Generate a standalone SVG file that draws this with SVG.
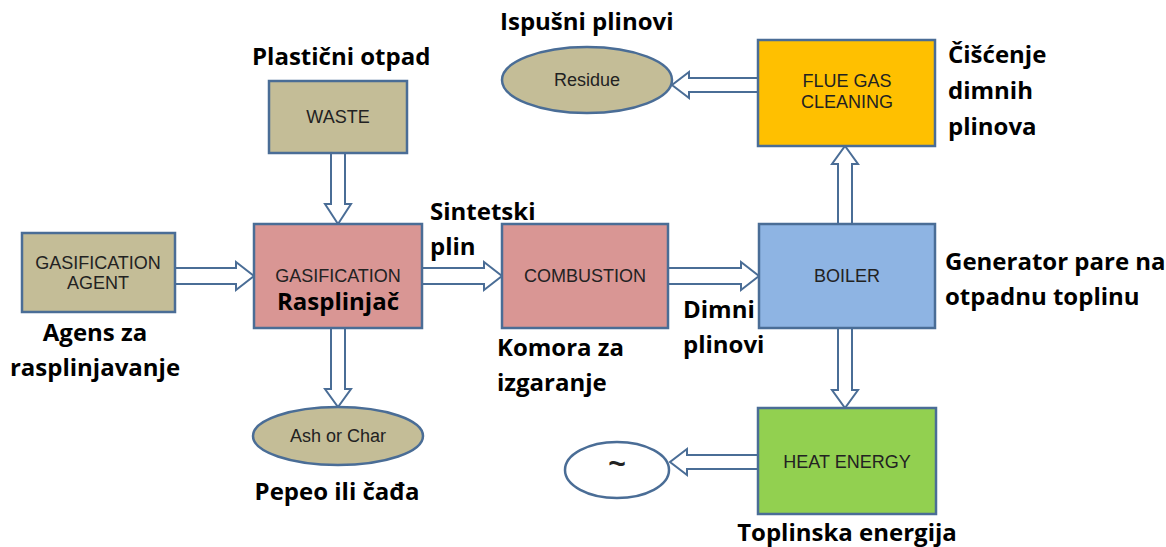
<svg xmlns="http://www.w3.org/2000/svg" width="1166" height="547" viewBox="0 0 1166 547">
<style>
.box{stroke:#4A6D96;stroke-width:2.5}
.arr{fill:#fff;stroke:#4A6D96;stroke-width:2;stroke-linejoin:miter}
.in{font-family:"Liberation Sans",Arial,sans-serif;font-size:18px;fill:#222;text-anchor:middle}
.lb{font-family:"Open Sans",Lato,sans-serif;font-weight:bold;font-size:24px;fill:#000}
</style>
<rect width="1166" height="547" fill="#fff"/>
<g id="connectors">
<path class="arr" d="M175,268 L236,268 L236,262 L254,276 L236,290 L236,284 L175,284 Z"/>
<path class="arr" d="M422,268 L484,268 L484,262 L502,276 L484,290 L484,284 L422,284 Z"/>
<path class="arr" d="M668,268 L741,268 L741,262 L759,276 L741,290 L741,284 L668,284 Z"/>
<path class="arr" d="M331,153 L331,204 L325,204 L338,224 L351,204 L345,204 L345,153 Z"/>
<path class="arr" d="M331,328 L331,389 L325,389 L338,407 L351,389 L345,389 L345,328 Z"/>
<path class="arr" d="M838,224 L838,164 L832,164 L845,146 L858,164 L852,164 L852,224 Z"/>
<path class="arr" d="M838,328 L838,390 L832,390 L845,408 L858,390 L852,390 L852,328 Z"/>
<path class="arr" d="M758,78 L689,78 L689,72 L672,85 L689,98 L689,92 L758,92 Z"/>
<path class="arr" d="M758,455 L687,455 L687,449 L670,462 L687,475 L687,469 L758,469 Z"/>
</g>
<g id="gasification-agent">
<rect class="box" x="22" y="233" width="153" height="79" fill="#C4BD97"/>
<text class="in" x="98" y="269">GASIFICATION</text>
<text class="in" x="98" y="289">AGENT</text>
</g>
<g id="waste">
<rect class="box" x="269" y="81" width="138" height="72" fill="#C4BD97"/>
<text class="in" x="338" y="123">WASTE</text>
</g>
<g id="gasification">
<rect class="box" x="254" y="224" width="168" height="104" fill="#D99694"/>
<text class="in" x="338" y="282">GASIFICATION</text>
<text class="lb" x="338" y="310" text-anchor="middle">Rasplinjač</text>
</g>
<g id="combustion">
<rect class="box" x="502" y="224" width="166" height="104" fill="#D99694"/>
<text class="in" x="585" y="282">COMBUSTION</text>
</g>
<g id="boiler">
<rect class="box" x="759" y="224" width="176" height="104" fill="#8EB4E3"/>
<text class="in" x="847" y="282">BOILER</text>
</g>
<g id="flue-gas-cleaning">
<rect class="box" x="758" y="40" width="177" height="106" fill="#FFC000"/>
<text class="in" x="847" y="87">FLUE GAS</text>
<text class="in" x="847" y="108">CLEANING</text>
</g>
<g id="heat-energy">
<rect class="box" x="758" y="408" width="178" height="106" fill="#92D050"/>
<text class="in" x="847" y="468">HEAT ENERGY</text>
</g>
<g id="residue">
<ellipse class="box" cx="587" cy="80" rx="85" ry="33" fill="#C4BD97"/>
<text class="in" x="587" y="86">Residue</text>
</g>
<g id="ash-or-char">
<ellipse class="box" cx="338" cy="436" rx="85" ry="29" fill="#C4BD97"/>
<text class="in" x="338" y="442">Ash or Char</text>
</g>
<g id="generator">
<ellipse class="box" cx="617" cy="470" rx="52" ry="28" fill="#fff"/>
<text x="617" y="474" text-anchor="middle" font-family="Liberation Sans,Arial,sans-serif" font-size="30" font-weight="bold" fill="#222">~</text>
</g>
<g id="labels">
<text class="lb" x="252" y="65">Plastični otpad</text>
<text class="lb" x="500" y="30">Ispušni plinovi</text>
<text class="lb" x="948" y="63">Čišćenje</text>
<text class="lb" x="948" y="99">dimnih</text>
<text class="lb" x="948" y="135">plinova</text>
<text class="lb" x="430" y="220">Sintetski</text>
<text class="lb" x="430" y="255">plin</text>
<text class="lb" x="945" y="270">Generator pare na</text>
<text class="lb" x="945" y="305">otpadnu toplinu</text>
<text class="lb" x="683" y="318">Dimni</text>
<text class="lb" x="683" y="353">plinovi</text>
<text class="lb" x="497" y="356">Komora za</text>
<text class="lb" x="497" y="391">izgaranje</text>
<text class="lb" x="95" y="341" text-anchor="middle">Agens za</text>
<text class="lb" x="95" y="376" text-anchor="middle">rasplinjavanje</text>
<text class="lb" x="337" y="500" text-anchor="middle">Pepeo ili čađa</text>
<text class="lb" x="847" y="541" text-anchor="middle">Toplinska energija</text>
</g>
</svg>
